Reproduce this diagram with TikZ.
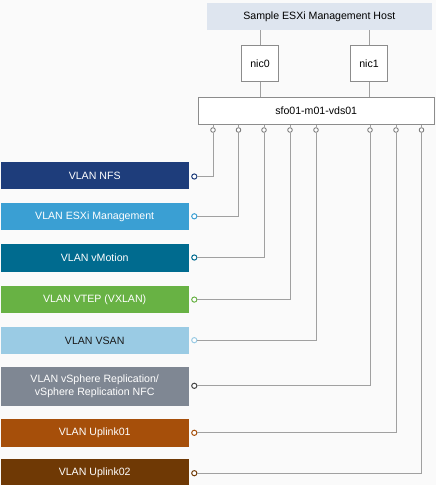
\documentclass[tikz,border=0pt]{standalone}
\usepackage{fontspec}
\setmainfont{Liberation Sans}
\definecolor{bg}{HTML}{FAFAFA}
\definecolor{hostfill}{HTML}{DEE5EF}
\definecolor{boxborder}{HTML}{8C8C8C}
\definecolor{wiregray}{HTML}{A0A0A0}
\definecolor{portgray}{HTML}{707070}
\definecolor{cnfs}{HTML}{1E3D7B}
\definecolor{cesxi}{HTML}{3A9FD3}
\definecolor{cvmot}{HTML}{006B8F}
\definecolor{cvtep}{HTML}{68B244}
\definecolor{cvsan}{HTML}{9ACBE4}
\definecolor{crepl}{HTML}{7F8793}
\definecolor{cupa}{HTML}{A64F0A}
\definecolor{cupb}{HTML}{6F3905}
\definecolor{creplport}{HTML}{444444}
\definecolor{darktext}{HTML}{1A1A1A}
\begin{document}
\begin{tikzpicture}[x=1pt,y=-1pt,
  lbl/.style={font=\fontsize{10.6}{12.6}\selectfont},
  hostbox/.style={lbl, fill=hostfill, minimum width=225pt, minimum height=27pt, inner sep=0pt},
  nicbox/.style={lbl, draw=boxborder, fill=white, line width=0.7pt, minimum width=36.6pt, minimum height=36.7pt, inner sep=0pt},
  vdsbox/.style={lbl, draw=boxborder, fill=white, line width=0.7pt, minimum width=236pt, minimum height=27pt, inner sep=0pt},
  vlanbox/.style={lbl, fill=#1, minimum width=188pt, minimum height=27.4pt, inner sep=0pt, anchor=west, text=white, align=center},
  port/.style={circle, draw=portgray, line width=0.8pt, fill=white, inner sep=0pt, minimum size=4.6pt},
  vlanport/.style={circle, draw=#1, line width=1pt, fill=white, inner sep=0pt, minimum size=5.2pt},
  wire/.style={draw=wiregray, line width=0.9pt}
]
\fill[bg] (0,0) rectangle (436,485);
\useasboundingbox (0,0) rectangle (436,485);

\node[hostbox] (host) at (319.3,16.5) {Sample ESXi Management Host};
\node[nicbox] (nic0) at (260,63.3) {nic0};
\node[nicbox] (nic1) at (369,63.3) {nic1};
\node[vdsbox] (vds) at (316.2,110.8) {sfo01-m01-vds01};

\draw[wire] (nic0.north) -- (nic0.north |- host.south);
\draw[wire] (nic1.north) -- (nic1.north |- host.south);
\draw[wire] (nic0.south) -- (nic0.south |- vds.north);
\draw[wire] (nic1.south) -- (nic1.south |- vds.north);

\foreach \i/\x in {1/213, 2/238.5, 3/264, 4/290, 5/316, 6/370, 7/396, 8/421.5}{
  \node[port] (p\i) at (\x,130) {};
  \draw[wire] (p\i.north) -- (p\i.north |- vds.south);
}

\node[vlanbox=cnfs] (v1) at (0.5,175.5) {VLAN NFS};
\node[vlanbox=cesxi] (v2) at (0.5,216.5) {VLAN ESXi Management};
\node[vlanbox=cvmot] (v3) at (0.5,258) {VLAN vMotion};
\node[vlanbox=cvtep] (v4) at (0.5,299.5) {VLAN VTEP (VXLAN)};
\node[vlanbox=cvsan, text=darktext] (v5) at (0.5,340.5) {VLAN VSAN};
\node[vlanbox=crepl, minimum height=39.3pt] (v6) at (0.5,386.3) {VLAN vSphere Replication/\\vSphere Replication NFC};
\node[vlanbox=cupa] (v7) at (0.5,433) {VLAN Uplink01};
\node[vlanbox=cupb] (v8) at (0.5,473) {VLAN Uplink02};

\node[vlanport=cnfs] (c1) at (194.3,176.5) {};
\node[vlanport=cesxi] (c2) at (194.3,216.3) {};
\node[vlanport=cvmot] (c3) at (194.3,257.5) {};
\node[vlanport=cvtep] (c4) at (194.3,299.6) {};
\node[vlanport=cvsan] (c5) at (194.3,340.2) {};
\node[vlanport=creplport] (c6) at (194.3,385.8) {};
\node[vlanport=cupa] (c7) at (194.3,432.8) {};
\node[vlanport=cupb] (c8) at (194.3,473.2) {};

\foreach \i in {1,...,8}{
  \draw[wire] (p\i.south) |- (c\i.east);
}
\end{tikzpicture}
\end{document}
